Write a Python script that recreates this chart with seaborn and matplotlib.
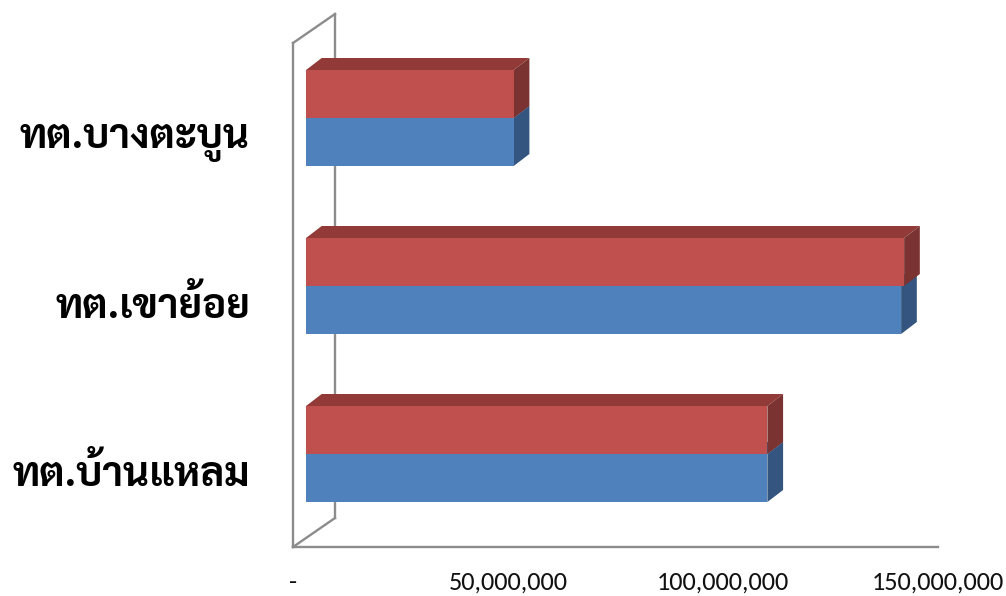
import matplotlib
matplotlib.use("Agg")
import matplotlib.pyplot as plt
import matplotlib.transforms as mtransforms
from matplotlib.patches import Polygon
from matplotlib.lines import Line2D
from matplotlib import font_manager as fm
import seaborn as sns
import pandas as pd

# ---------------- data ----------------
categories = ["ทต.บางตะบูน", "ทต.เขาย้อย", "ทต.บ้านแหลม"]   # top -> bottom
series_names = ["ชุดที่ 1", "ชุดที่ 2"]                     # blue, red
series_blue = [48_300_000, 138_400_000, 107_300_000]
series_red = [48_300_000, 139_100_000, 107_300_000]
tick_values = [0, 50_000_000, 100_000_000, 150_000_000]
tick_labels = ["-", "50,000,000", "100,000,000", "150,000,000"]

# ---------------- fonts ----------------
def _weight(w):
    if isinstance(w, str):
        return {"bold": 700, "heavy": 800, "black": 900, "semibold": 600, "demibold": 600,
                "extra bold": 800, "ultrabold": 800}.get(w.lower(), 400)
    return w
_fonts = fm.fontManager.ttflist
def pick(cands, default="DejaVu Sans", need_bold=False):
    for c in cands:
        entries = [f for f in _fonts if f.name == c]
        if not entries:
            continue
        if need_bold and not any(_weight(f.weight) >= 600 and f.style == "normal" for f in entries):
            continue
        return c
    return default

thai_font = pick(["Tahoma", "Noto Sans Thai Looped", "Sarabun", "Loma", "Noto Sans Thai"], need_bold=True)
num_font = pick(["Carlito", "Calibri", "Open Sans", "Liberation Sans"])

sns.set_style("white")
plt.rcParams["font.family"] = [num_font, "DejaVu Sans"]

W, H, DPI = 1006, 596, 100
fig = plt.figure(figsize=(W / DPI, H / DPI), dpi=DPI)
fig.patch.set_facecolor("white")

# front-plane axes box (pixels)
ax_l, ax_r, ax_top, ax_bot = 293, 938, 43, 547
ax = fig.add_axes([ax_l / W, (H - ax_bot) / H, (ax_r - ax_l) / W, (ax_bot - ax_top) / H])
ax.set_facecolor("none")

df = pd.DataFrame({
    "category": categories * 2,
    "series": [series_names[0]] * len(categories) + [series_names[1]] * len(categories),
    "value": series_blue + series_red,
})

blue, red = "#4F81BD", "#C0504D"
palette = {series_names[0]: blue, series_names[1]: red}
sns.barplot(data=df, y="category", x="value", hue="series",
            hue_order=[series_names[1], series_names[0]], order=categories,
            palette=palette, saturation=1, width=96 / 168, orient="h",
            linewidth=0, ax=ax, legend=False, zorder=3)

ax.set_xlim(0, 150_000_000)
ax.set_ylim(len(categories) - 0.5, -0.5)
ax.set_autoscale_on(False)
for s in ax.spines.values():
    s.set_visible(False)
ax.grid(False)
ax.set_xlabel("")
ax.set_ylabel("")

ax.set_xticks(tick_values, tick_labels)
ax.tick_params(axis="x", length=0, pad=17, labelsize=19, labelcolor="#111111")
ax.set_yticks(range(len(categories)), categories)
ax.tick_params(axis="y", length=0, pad=31)
ylabels = ax.get_yticklabels()
for t in ylabels:
    t.set_fontfamily([thai_font, "DejaVu Sans"])
    t.set_fontweight("bold")
    t.set_fontsize(30)
    t.set_color("black")
    t.set_transform(t.get_transform() + mtransforms.ScaledTranslation(0, -7 / DPI, fig.dpi_scale_trans))

# fit the label size so the first label is about 230 px wide
fig.canvas.draw()
w0 = ylabels[0].get_window_extent().width
size = 30 * 230 / w0
for t in ylabels:
    t.set_fontsize(size)

# ---------------- pseudo-3D ----------------
fig.canvas.draw()
ident = mtransforms.IdentityTransform()
front_dx, front_dy = 13, 9        # bar front face depth shift (px)
depth_dx, depth_dy = 15.7, 12     # bar depth (px)
wall_dx, wall_dy = 42, 29         # back wall shift (px)

shift = mtransforms.ScaledTranslation(front_dx / DPI, front_dy / DPI, fig.dpi_scale_trans)
face_colors = {
    blue: ("#3d6796", "#34557F"),   # top, side
    red: ("#923A38", "#7B3331"),
}
def is_red(p):
    c = p.get_facecolor()
    return c[0] > c[2]
bars = list(ax.patches)
for p in bars:
    x0, y0 = p.get_x(), p.get_y()
    x1, y1 = x0 + p.get_width(), y0 + p.get_height()
    disp = (ax.transData + shift).transform([(x0, y0), (x1, y0), (x1, y1), (x0, y1)])
    xs = disp[:, 0]; ys = disp[:, 1]
    L, R = xs.min(), xs.max()
    T, B = ys.max(), ys.min()
    key = red if is_red(p) else blue
    top_c, side_c = face_colors[key]
    z = 3.5 if key == red else 2.5
    p.set_transform(ax.transData + shift)
    p.set_zorder(z + 0.1)
    p.set_clip_on(False)
    top = Polygon([(L, T), (R, T), (R + depth_dx, T + depth_dy), (L + depth_dx, T + depth_dy)],
                  closed=True, facecolor=top_c, edgecolor="none", zorder=z)
    side = Polygon([(R, B), (R, T), (R + depth_dx, T + depth_dy), (R + depth_dx, B + depth_dy)],
                   closed=True, facecolor=side_c, edgecolor="none", zorder=z)
    for poly in (top, side):
        poly.set_transform(ident)
        poly.set_clip_on(False)
        ax.add_artist(poly)

# walls
bb = ax.get_window_extent()
x0, y0, x1, y1 = bb.x0, bb.y0, bb.x1, bb.y1
wall_kw = dict(color="#8C8C8C", linewidth=1.7, solid_capstyle="projecting")
def wall(xs, ys, z):
    ln = Line2D(xs, ys, zorder=z, **wall_kw)
    ln.set_transform(ident)
    ln.set_clip_on(False)
    ax.add_artist(ln)
wall([x0 + wall_dx, x0 + wall_dx], [y0 + wall_dy, y1 + wall_dy], 1)
wall([x0, x0 + wall_dx], [y1, y1 + wall_dy], 1)
wall([x0, x0 + wall_dx], [y0, y0 + wall_dy], 1)
wall([x0, x0], [y0, y1], 5)
wall([x0, x1], [y0, y0], 5)

fig.savefig("out.png", dpi=DPI, facecolor="white")
